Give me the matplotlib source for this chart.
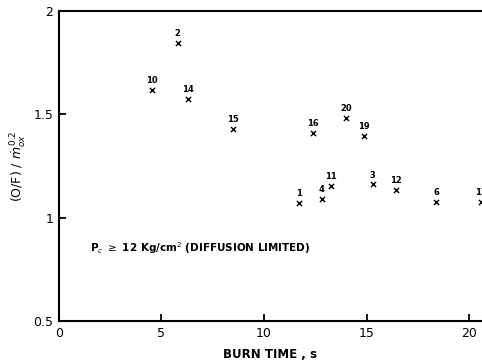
import matplotlib
matplotlib.use("Agg")
import matplotlib.pyplot as plt

burn_time = [4.53, 5.80, 6.31, 8.50, 12.40, 13.98, 14.87, 11.72, 12.81, 13.26, 15.29, 16.44, 18.38, 20.57]
of_ratio = [1.618, 1.844, 1.573, 1.429, 1.411, 1.481, 1.394, 1.070, 1.089, 1.155, 1.161, 1.134, 1.075, 1.077]
run_ids = ["10", "2", "14", "15", "16", "20", "19", "1", "4", "11", "3", "12", "6", "17"]

x_ticks = [0, 5, 10, 15, 20]
y_ticks = [0.5, 1, 1.5, 2]
y_tick_labels = ["0.5", "1", "1.5", "2"]

plt.rcParams['font.family'] = ['DejaVu Sans']

fig = plt.figure(figsize=(4.82, 3.60), dpi=100)
ax = fig.add_axes([58.7 / 482, 39 / 360, (482 - 58.7) / 482, 310 / 360])

ax.scatter(burn_time, of_ratio, marker='x', s=14, color='black', linewidths=1.0, clip_on=True)
for x, y, lab in zip(burn_time, of_ratio, run_ids):
    ax.annotate(lab, (x, y), xytext=(0, 3.5), textcoords='offset points',
                ha='center', va='bottom', fontsize=6, fontweight='bold',
                annotation_clip=True, clip_on=True)

ax.set_xlim(0, (482 - 58.7) / 20.53)
ax.set_ylim(0.5, 2.0)
ax.set_xticks(x_ticks)
ax.set_yticks(y_ticks)
ax.set_yticklabels(y_tick_labels)
ax.tick_params(direction='in', length=5, width=1.3, labelsize=9, pad=4)

for s in ['top', 'left', 'bottom']:
    ax.spines[s].set_linewidth(1.5)
ax.spines['right'].set_visible(False)

ax.set_xlabel("BURN TIME , s", fontsize=8.5, fontweight='bold', labelpad=6)
ax.set_ylabel(r"(O/F) / $\dot{m}_{ox}^{\,0.2}$", fontsize=9, labelpad=3)

ax.text(1.52, 0.853, r"P$_c$ $\geq$ 12 Kg/cm$^2$ (DIFFUSION LIMITED)",
        fontsize=7.5, fontweight='bold', ha='left', va='center')

fig.savefig("out.png", dpi=100)
